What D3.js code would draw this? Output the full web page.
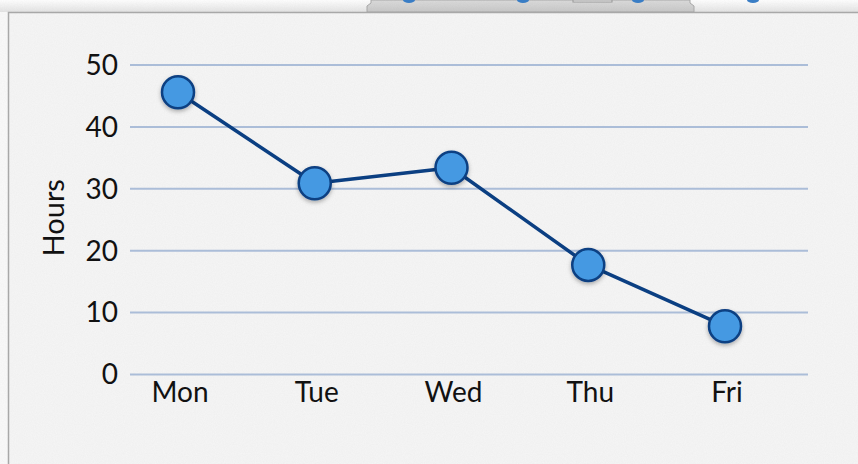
<!DOCTYPE html>
<html>
<head>
<meta charset="utf-8">
<script src="https://cdn.jsdelivr.net/npm/d3@7"></script>
<style>
  html, body { margin: 0; padding: 0; background: #fff; }
  svg { display: block; }
  .tick-label { font-family: Lato, "Open Sans", sans-serif; font-size: 28px; fill: #111; }
</style>
</head>
<body>
<svg width="858" height="464"></svg>
<script>
const days = ['Mon', 'Tue', 'Wed', 'Thu', 'Fri'];
const hours = [45.6, 30.9, 33.4, 17.7, 7.8];
const yTicks = [0, 10, 20, 30, 40, 50];
const yAxisLabel = 'Hours';

const svg = d3.select('svg');
const width = +svg.attr('width');
const height = +svg.attr('height');

const defs = svg.append('defs');
const topGrad = defs.append('linearGradient')
  .attr('id', 'topGrad').attr('x1', 0).attr('y1', 0).attr('x2', 0).attr('y2', 1);
topGrad.append('stop').attr('offset', '0%').attr('stop-color', '#ffffff');
topGrad.append('stop').attr('offset', '100%').attr('stop-color', '#e4e4e4');
const tabGrad = defs.append('linearGradient')
  .attr('id', 'tabGrad').attr('x1', 0).attr('y1', 0).attr('x2', 0).attr('y2', 1);
tabGrad.append('stop').attr('offset', '0%').attr('stop-color', '#dcdcdc');
tabGrad.append('stop').attr('offset', '100%').attr('stop-color', '#c8c8c8');

const shadow = defs.append('filter').attr('id', 'shadow')
  .attr('x', '-50%').attr('y', '-50%').attr('width', '200%').attr('height', '200%');
shadow.append('feDropShadow')
  .attr('dx', 0).attr('dy', 2).attr('stdDeviation', 2)
  .attr('flood-color', '#000').attr('flood-opacity', 0.3);

const paper = defs.append('filter').attr('id', 'paper');
paper.append('feTurbulence').attr('type', 'fractalNoise')
  .attr('baseFrequency', 0.9).attr('numOctaves', 2).attr('result', 'noise');
paper.append('feColorMatrix').attr('in', 'noise').attr('type', 'matrix')
  .attr('values', '0 0 0 0 0  0 0 0 0 0  0 0 0 0 0  0 0 0 0.03 0');

// page behind the panel
svg.append('rect').attr('width', width).attr('height', height).attr('fill', '#fafafa');
svg.append('rect').attr('width', width).attr('height', 12).attr('fill', 'url(#topGrad)');

// bit of the panel above peeking in at the top
svg.append('path')
  .attr('d', 'M367,12 L367,6 L371,3 L371,0 L690,0 L690,3 L694,6 L694,12 Z')
  .attr('fill', 'url(#tabGrad)').attr('stroke', '#aaa');
svg.append('rect').attr('x', 573).attr('y', 0).attr('width', 39).attr('height', 2)
  .attr('fill', '#f4f4f4').attr('stroke', '#999');
svg.selectAll('.peek').data([409, 523, 638, 753]).join('ellipse')
  .attr('class', 'peek')
  .attr('cx', d => d).attr('cy', 0).attr('rx', 6).attr('ry', 3)
  .attr('fill', '#3a7fc8');

// panel
svg.append('rect')
  .attr('x', 8).attr('y', 12).attr('width', width - 8).attr('height', height - 12)
  .attr('fill', '#f6f6f6');
svg.append('rect')
  .attr('x', 8).attr('y', 12).attr('width', width - 8).attr('height', height - 12)
  .attr('filter', 'url(#paper)');
svg.append('path')
  .attr('d', `M8.5,${height} V12.5 H${width}`)
  .attr('fill', 'none').attr('stroke', '#a8a8a8').attr('stroke-width', 1.5);

const margin = { top: 65, left: 130, right: 50, bottom: 89.5 };

const xScale = d3.scalePoint()
  .domain(days)
  .range([margin.left + 48, margin.left + 595]);

const yScale = d3.scaleLinear()
  .domain([0, 50])
  .range([height - margin.bottom, margin.top]);

// grid lines
svg.selectAll('.grid').data(yTicks).join('line')
  .attr('class', 'grid')
  .attr('x1', margin.left).attr('x2', width - margin.right)
  .attr('y1', d => yScale(d)).attr('y2', d => yScale(d))
  .attr('stroke', '#abbdd8').attr('stroke-width', 2);

// y tick labels
svg.selectAll('.y-label').data(yTicks).join('text')
  .attr('class', 'tick-label y-label')
  .attr('x', margin.left - 12)
  .attr('y', d => yScale(d))
  .attr('dy', '0.35em')
  .attr('text-anchor', 'end')
  .text(d => d);

// x tick labels
svg.selectAll('.x-label').data(days).join('text')
  .attr('class', 'tick-label x-label')
  .attr('x', d => xScale(d) + 2)
  .attr('y', yScale(0) + 8)
  .attr('dy', '0.71em')
  .attr('text-anchor', 'middle')
  .text(d => d);

// axis label
const labelX = 54;
const labelY = (yScale(0) + yScale(50)) / 2 - 2;
svg.append('text')
  .attr('class', 'tick-label')
  .style('font-size', '29px')
  .attr('x', labelX).attr('y', labelY)
  .attr('transform', `rotate(-90, ${labelX}, ${labelY})`)
  .attr('text-anchor', 'middle')
  .attr('dy', '0.35em')
  .text(yAxisLabel);

// line
const line = d3.line()
  .x((d, i) => xScale(days[i]))
  .y(d => yScale(d));

svg.append('path')
  .datum(hours)
  .attr('d', line)
  .attr('fill', 'none')
  .attr('stroke', '#0b3f82')
  .attr('stroke-width', 3.5)
  .attr('stroke-linejoin', 'round');

// points
svg.selectAll('.dot').data(hours).join('circle')
  .attr('class', 'dot')
  .attr('cx', (d, i) => xScale(days[i]))
  .attr('cy', d => yScale(d))
  .attr('r', 16)
  .attr('fill', '#4499e2')
  .attr('stroke', '#0b3f82')
  .attr('stroke-width', 2.5)
  .attr('filter', 'url(#shadow)');
</script>
</body>
</html>
